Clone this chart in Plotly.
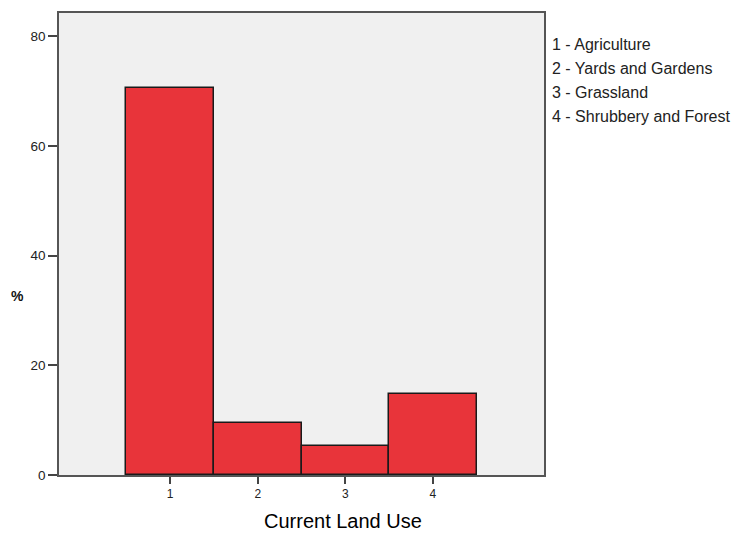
import plotly.graph_objects as go

# Land-use categories and their share of the sample (%)
categories = [1, 2, 3, 4]
tick_labels = ["1", "2", "3", "4"]
percent = [70.5, 9.5, 5.2, 14.8]
legend_lines = [
    "1 - Agriculture",
    "2 - Yards and Gardens",
    "3 - Grassland",
    "4 - Shrubbery and Forest",
]
y_ticks = [0, 20, 40, 60, 80]

W, H = 733, 533
L, R, T, B = 59, 189, 13, 58
plot_w = W - L - R
plot_h = H - T - B

fig = go.Figure()
fig.add_trace(go.Bar(
    x=categories,
    y=percent,
    width=1.0,
    marker=dict(color="#E8343A", line=dict(color="#1a1a1a", width=1.5)),
    hoverinfo="x+y",
))

font_family = "Liberation Sans, Arial, sans-serif"

fig.update_layout(
    width=W, height=H,
    margin=dict(l=L, r=R, t=T, b=B, pad=0),
    paper_bgcolor="white",
    plot_bgcolor="#F0F0F0",
    showlegend=False,
    bargap=0,
    font=dict(family=font_family, color="#222222", size=12),
    xaxis=dict(
        range=[-0.27, 5.27],
        tickmode="array", tickvals=categories, ticktext=tick_labels,
        ticks="outside", ticklen=7, tickwidth=2, tickcolor="#444444",
        showline=True, linecolor="#555555", linewidth=1.5, mirror=True,
        showgrid=False, zeroline=False,
        tickfont=dict(size=12, color="#222222"),
    ),
    yaxis=dict(
        range=[0, 84.2],
        tickmode="array", tickvals=y_ticks,
        ticks="outside", ticklen=9, tickwidth=2, tickcolor="#444444",
        showline=True, linecolor="#555555", linewidth=1.5, mirror=True,
        showgrid=False, zeroline=False,
        tickfont=dict(size=13.5, color="#222222"),
    ),
)

# Axis titles
fig.add_annotation(
    text="Current Land Use", xref="paper", yref="paper",
    x=(343 - L) / plot_w, y=-(521 - (H - B)) / plot_h,
    xanchor="center", yanchor="middle", showarrow=False,
    font=dict(size=20, color="#000000", family=font_family),
)
fig.add_annotation(
    text="<b>%</b>", xref="paper", yref="paper",
    x=(17 - L) / plot_w, y=((H - B) - 296) / plot_h,
    xanchor="center", yanchor="middle", showarrow=False,
    font=dict(size=14, color="#111111", family=font_family),
)

# Category key to the right of the plot
for i, line in enumerate(legend_lines):
    y_px = 45 + i * 23.7
    fig.add_annotation(
        text=line, xref="paper", yref="paper",
        x=(550 - L) / plot_w, y=((H - B) - y_px) / plot_h,
        xanchor="left", yanchor="middle", showarrow=False,
        font=dict(size=16, color="#222222", family=font_family),
    )

fig.write_html("out.html")
